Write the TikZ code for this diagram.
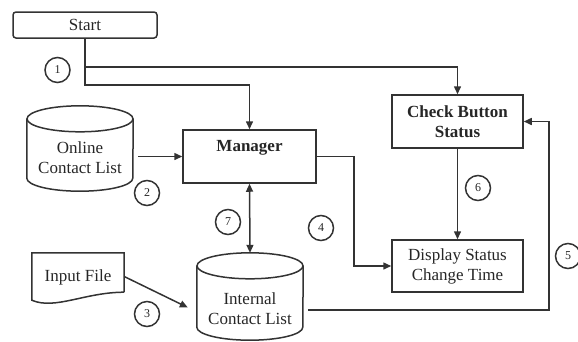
\documentclass[tikz,border=0pt]{standalone}
\usepackage{fontspec}
\setmainfont{Liberation Serif}
\usetikzlibrary{arrows.meta,calc}
\newcommand\drawcyl[2]{%
  \draw[ln] ($(#1.north west)+(0,-#2)$) -- ($(#1.south west)+(0,#2)$)
     arc[start angle=180,end angle=360,x radius=53,y radius=#2]
     -- ($(#1.north east)+(0,-#2)$);
  \draw[ln] ($(#1.north)+(0,-#2)$) ellipse[x radius=53,y radius=#2];}
\begin{document}
\begin{tikzpicture}[x=1pt,y=1pt,
  ln/.style={line width=1.5pt,draw=black!80},
  arr/.style={ln,-{Triangle[length=8pt,width=7pt]}},
  darr/.style={ln,{Triangle[length=8pt,width=7pt]}-{Triangle[length=8pt,width=7pt]}},
  box/.style={ln,rectangle,inner sep=0pt,align=center,text=black!85,font=\fontsize{17}{20}\selectfont},
  bbox/.style={box,font=\fontsize{17}{20}\selectfont\bfseries},
  shp/.style={rectangle,inner sep=0pt,draw=none},
  txt/.style={inner sep=0pt,align=center,text=black!85,font=\fontsize{17}{20}\selectfont},
  num/.style={ln,circle,minimum size=25pt,inner sep=0pt,text=black!85,font=\fontsize{12}{12}\selectfont}]
\useasboundingbox (0,0) rectangle (578,-341);
% nodes
\node[box,rounded corners=3pt,minimum width=144pt,minimum height=26pt] (start) at (85,-25) {Start};
\node[bbox,minimum width=133pt,minimum height=53pt,text depth=22pt] (mgr) at (249.5,-156.5) {Manager};
\node[bbox,minimum width=131pt,minimum height=53pt] (cbs) at (457.5,-121.5) {Check Button\\Status};
\node[box,minimum width=131pt,minimum height=52pt] (dsc) at (457.5,-266) {Display Status\\Change Time};
% cylinders
\node[shp,minimum width=106pt,minimum height=85pt] (ocl) at (80,-148.5) {};
\drawcyl{ocl}{13}
\node[txt] (oclt) at (80,-158) {Online\\Contact List};
\node[shp,minimum width=106pt,minimum height=87pt] (icl) at (250,-296.5) {};
\drawcyl{icl}{13}
\node[txt] (iclt) at (250,-309) {Internal\\Contact List};
% input file (document shape)
\node[shp,minimum width=92pt,minimum height=47pt] (inf) at (78,-276.5) {};
\draw[ln] ([yshift=8pt]inf.south east) -- (inf.north east) -- (inf.north west) -- (inf.south west)
   .. controls +(23,-10) and +(-39,0) .. ([yshift=8pt]inf.south east);
\node[txt] (inft) at (78,-277) {Input File};
% numbers
\node[num] (n1) at (57.5,-70) {1};
\node[num] (n2) at (147,-193) {2};
\node[num] (n3) at (147,-314) {3};
\node[num] (n4) at (321,-228) {4};
\node[num] (n5) at (568,-256) {5};
\node[num] (n6) at (478,-188) {6};
\node[num] (n7) at (228,-222) {7};
% connectors
\coordinate (b1) at (85,-67);
\coordinate (b2) at (85,-85);
\draw[arr] (start.south) -- (b2) -| (mgr.north);
\draw[arr] (b1) -| (cbs.north);
\draw[arr] ([xshift=5pt]ocl.east |- mgr.west) -- (mgr.west);
\draw[arr] (inf.east) -- ([shift={(-9pt,-11pt)}]icl.west);
\draw[arr] (mgr.east) -- ++(37,0) |- (dsc.west);
\draw[arr] ([shift={(5pt,-13.5pt)}]icl.east) -| ([xshift=25pt]cbs.east) -- (cbs.east);
\draw[arr] (cbs.south) -- (dsc.north);
\draw[darr] (mgr.south) -- (icl.north);
\end{tikzpicture}
\end{document}
